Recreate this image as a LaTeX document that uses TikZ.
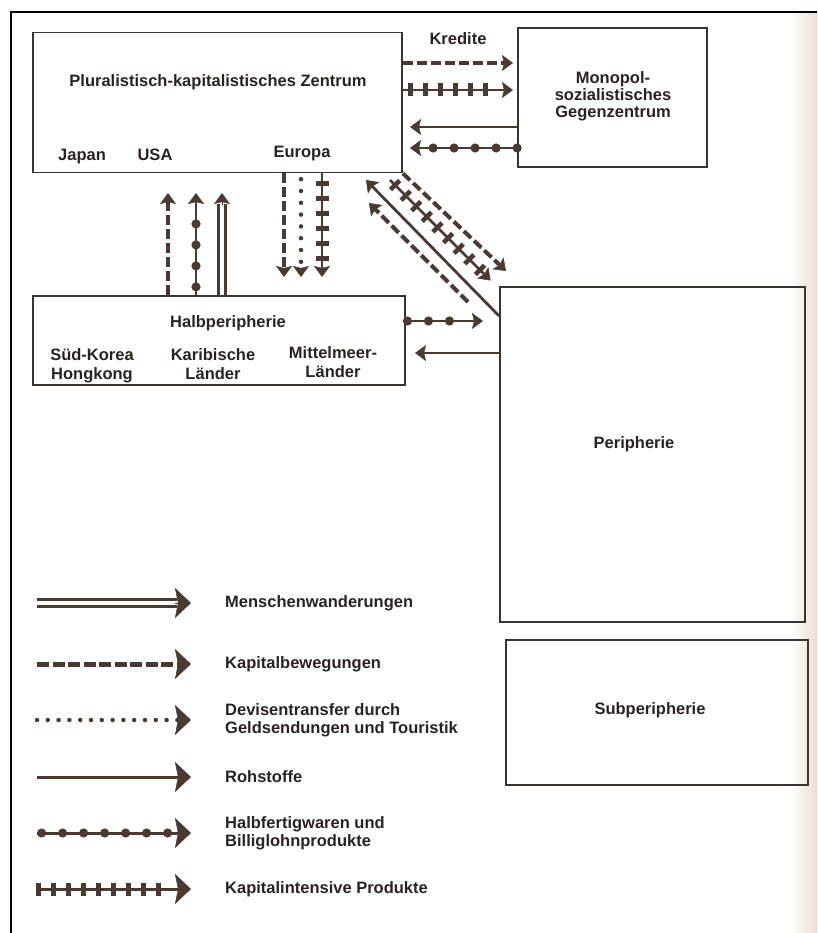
\documentclass[tikz,border=0pt]{standalone}
\usepackage{fontspec}
\setmainfont{Liberation Sans}
\usepackage{tikz}
\usetikzlibrary{arrows.meta}
\usetikzlibrary{decorations.markings}
\usetikzlibrary{positioning}
\definecolor{INK}{HTML}{4B3A31}
\definecolor{BOX-INK}{HTML}{3A3431}
\definecolor{TEXT-INK}{HTML}{2A221E}
\definecolor{PAGE}{HTML}{E9DFD4}

\begin{document}
\begin{tikzpicture}[x=1pt,y=-1pt,
  every node/.style={inner sep=0pt,text=TEXT-INK,font=\bfseries\fontsize{16.5}{17}\selectfont},
  region/.style={draw=BOX-INK,line width=1.8pt},
  twoline/.style={align=center,font=\bfseries\fontsize{16.5}{19}\selectfont},
  legtext/.style={align=left,font=\bfseries\fontsize{16.5}{18}\selectfont},
  arrowtip/.style={-{Stealth[length=11pt,width=16pt,inset=2pt,line width=0.5pt]}},
  bigarrowtip/.style={-{Stealth[length=16pt,width=30pt,inset=3pt,line width=0.5pt]}},
  kapital/.style={draw=INK,line width=4pt,dash pattern=on 10pt off 4pt},
  devisen/.style={draw=INK,line width=4.5pt,line cap=round,dash pattern=on 0pt off 11.8pt},
  rohstoff/.style={draw=INK,line width=2.8pt},
  menschen/.style={draw=INK,line width=2.6pt,double=white,double distance=4pt},
  halbfertig/.style 2 args={draw=INK,line width=2.6pt,
    postaction={decorate,decoration={markings,
      mark=between positions #1 and #2 step 21pt with {\fill[INK] (0,0) circle (4.6pt);}}}},
  intensiv/.style 2 args={draw=INK,line width=2.6pt,
    postaction={decorate,decoration={markings,
      mark=between positions #1 and #2 step 15pt with {\fill[INK] (-2.3pt,-6.5pt) rectangle (2.3pt,6.5pt);}}}}]
	\useasboundingbox (0,0) rectangle (817,933);

	% draw page edge and frame
	\shade[left color=white,right color=PAGE] (790,13) rectangle (817,933);
	\draw[line width=2.6pt] (11,933) -- (11,12) -- (817,12);

	% draw regions
	\node[region,minimum width=369pt,minimum height=140pt] (zentrum) at (217.5,102.5) {};
	\node[region,minimum width=189pt,minimum height=139pt] (monopol) at (612.5,97.5) {};
	\node[region,minimum width=372pt,minimum height=89pt] (halb) at (219,340.5) {};
	\node[region,minimum width=305pt,minimum height=335pt] (peripherie) at (652.5,454.5) {};
	\node[region,minimum width=302pt,minimum height=145pt] (subperipherie) at (657,712.5) {};

	% draw region labels
	\node[anchor=base] (ztitle) at (218,87) {Pluralistisch-kapitalistisches Zentrum};
	\node[anchor=base] (japan) at (82,161) {Japan};
	\node[anchor=base] (usa) at (155,161) {USA};
	\node[anchor=base] (europa) at (302,158) {Europa};
	\node[align=center] (mtitle) at (613,96.5) {Monopol-\\sozialistisches\\Gegenzentrum};
	\node[anchor=base] (htitle) at (228,327) {Halbperipherie};
	\node[twoline] (suedkorea) at (92,366) {Süd-Korea\\Hongkong};
	\node[twoline] (karibik) at (213,364) {Karibische\\Länder};
	\node[twoline] (mittelmeer) at (333,362) {Mittelmeer-\\Länder};
	\node (ptitle) at (634,444) {Peripherie};
	\node (stitle) at (650,710) {Subperipherie};

	% draw arrows between Zentrum and Gegenzentrum
	\coordinate (kred1) at (513,63);
	\coordinate (kred2) at (513,90);
	\coordinate (gz1) at (410,127);
	\coordinate (gz2) at (410,148);
	\node[anchor=base] (kredite) at (458,45) {Kredite};
	\draw[kapital,arrowtip] (zentrum.east |- kred1) -- (kred1);
	\draw[intensiv={0.07}{0.88},arrowtip] (zentrum.east |- kred2) -- (kred2);
	\draw[rohstoff,arrowtip] (monopol.west |- gz1) -- (gz1);
	\draw[halbfertig={0}{0.86},arrowtip] (monopol.west |- gz2) -- (gz2);

	% draw arrows between Halbperipherie and Zentrum
	\coordinate (hz1) at (168,193);
	\coordinate (hz2) at (196,193);
	\coordinate (hz3) at (222,193);
	\coordinate (zh1) at (284,277);
	\coordinate (zh2) at (301,277);
	\coordinate (zh3) at (322,277);
	\draw[kapital,arrowtip] (halb.north -| hz1) -- (hz1);
	\draw[halbfertig={0.08}{0.75},arrowtip] (halb.north -| hz2) -- (hz2);
	\draw[menschen] (halb.north -| hz3) -- ([yshift=-11pt]hz3);
	\draw[draw=INK,line width=1pt,arrowtip] ([yshift=-12pt]hz3) -- (hz3);
	\draw[kapital,arrowtip] (zentrum.south -| zh1) -- (zh1);
	\draw[devisen,dash phase=6pt,arrowtip] (zentrum.south -| zh2) -- (zh2);
	\draw[intensiv={0.1}{0.88},arrowtip] (zentrum.south -| zh3) -- (zh3);

	% draw arrows between Zentrum and Peripherie
	\coordinate (zp1) at (506,271);
	\coordinate (zp2a) at (390,180);
	\coordinate (zp2b) at (490.5,280.5);
	\coordinate (pz1) at (366,180);
	\coordinate (pz2a) at (468,302);
	\coordinate (pz2b) at (369,203);
	\draw[kapital,arrowtip] (zentrum.south east) -- (zp1);
	\draw[intensiv={0.05}{0.9},arrowtip] (zp2a) -- (zp2b);
	\draw[rohstoff,arrowtip] (peripherie.west |- 0,316) -- (pz1);
	\draw[kapital,arrowtip] (pz2a) -- (pz2b);

	% draw arrows between Halbperipherie and Peripherie
	\coordinate (hp1) at (483,321);
	\coordinate (ph1) at (415,353);
	\draw[halbfertig={0.02}{0.72},arrowtip] (halb.east |- hp1) -- (hp1);
	\draw[rohstoff,arrowtip] (peripherie.west |- ph1) -- (ph1);

	% draw legend
	\coordinate (l1a) at (37,603);
	\coordinate (l1b) at (191,603);
	\coordinate (l2a) at (37,664);
	\coordinate (l2b) at (191,664);
	\coordinate (l3a) at (37,720);
	\coordinate (l3b) at (191,720);
	\coordinate (l4a) at (37,777);
	\coordinate (l4b) at (191,777);
	\coordinate (l5a) at (37,833);
	\coordinate (l5b) at (191,833);
	\coordinate (l6a) at (37,889);
	\coordinate (l6b) at (191,889);
	\draw[menschen] (l1a) -- ([xshift=-14pt]l1b);
	\draw[draw=INK,line width=1pt,bigarrowtip] ([xshift=-16pt]l1b) -- (l1b);
	\draw[kapital,line width=5pt,dash pattern=on 12pt off 3.5pt,bigarrowtip] (l2a) -- (l2b);
	\draw[devisen,dash pattern=on 0pt off 10.8pt,bigarrowtip] (l3a) -- (l3b);
	\draw[rohstoff,line width=3pt,bigarrowtip] (l4a) -- (l4b);
	\draw[halbfertig={0.03}{0.86},line width=3pt,bigarrowtip] (l5a) -- (l5b);
	\draw[intensiv={0.01}{0.85},line width=3pt,bigarrowtip] (l6a) -- (l6b);
	\node[legtext,right=34pt of l1b] (lmensch) {Menschenwanderungen};
	\node[legtext,right=34pt of l2b] (lkapital) {Kapitalbewegungen};
	\node[legtext,right=34pt of l3b] (ldevisen) {Devisentransfer durch\\Geldsendungen und Touristik};
	\node[legtext,right=34pt of l4b] (lroh) {Rohstoffe};
	\node[legtext,right=34pt of l5b] (lhalb) {Halbfertigwaren und\\Billiglohnprodukte};
	\node[legtext,right=34pt of l6b] (lintensiv) {Kapitalintensive Produkte};
\end{tikzpicture}
\end{document}
